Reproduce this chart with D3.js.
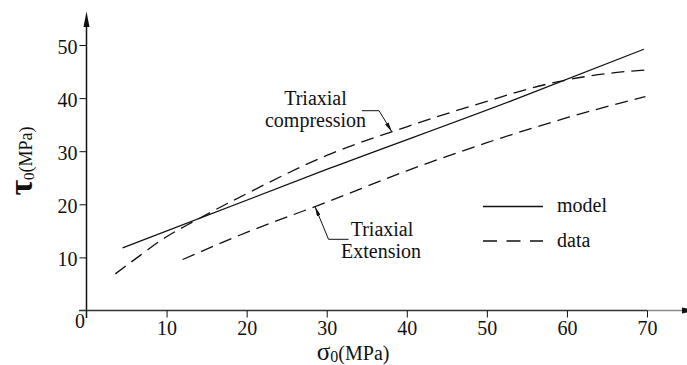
<!DOCTYPE html>
<html>
<head>
<meta charset="utf-8">
<script src="https://cdn.jsdelivr.net/npm/d3@7"></script>
<style>
  html, body { margin: 0; padding: 0; background: #fff; }
  svg { display: block; }
  svg text { font-family: "Liberation Serif", "Times New Roman", "DejaVu Serif", serif; fill: #111; }
</style>
</head>
<body>
<svg id="chart" width="687" height="365" font-family="Liberation Serif, serif"></svg>
<script>
// ---- data ----
const xTicks = [10, 20, 30, 40, 50, 60, 70];
const yTicks = [10, 20, 30, 40, 50];

const modelSigma = [4.5, 30.4, 52.9, 69.6];
const modelTau   = [11.8, 26.8, 39.4, 49.2];

const compSigma = [3.6, 5.65, 10, 13.3, 20, 30, 40, 50, 58, 66, 69.8];
const compTau   = [6.9, 9.2, 13.9, 16.7, 22.0, 29.2, 34.6, 39.4, 42.8, 44.8, 45.3];

const extSigma = [12, 20, 30, 40, 50, 60, 69.8];
const extTau   = [9.6, 14.7, 20.4, 26.3, 31.6, 36.3, 40.3];

const legendLabels = ["model", "data"];

// ---- layout ----
const FONT = "Liberation Serif";
const svg = d3.select("#chart");
const x = d3.scaleLinear().domain([0, 70]).range([86.5, 647]);
const y = d3.scaleLinear().domain([0, 50]).range([310.5, 45]);
const ink = "#111";

// arrow markers
const defs = svg.append("defs");
defs.append("marker").attr("id", "tip").attr("viewBox", "0 0 10 4")
  .attr("refX", 10).attr("refY", 2).attr("markerWidth", 10).attr("markerHeight", 4)
  .attr("markerUnits", "userSpaceOnUse").attr("orient", "auto")
  .append("path").attr("d", "M0,0 L10,2 L0,4 Z").attr("fill", ink);

// axes lines
const x0 = x(0), y0 = y(0);
svg.append("line").attr("x1", x0).attr("x2", x0).attr("y1", 318).attr("y2", 20)
  .attr("stroke", ink).attr("stroke-width", 1.5);
svg.append("path").attr("d", `M${x0 - 3},27 L${x0},11.5 L${x0 + 3},27 Z`).attr("fill", ink);

svg.append("line").attr("x1", 79).attr("x2", x(70)).attr("y1", y0).attr("y2", y0)
  .attr("stroke", "#333").attr("stroke-width", 1.6);
svg.append("line").attr("x1", x(70)).attr("x2", 684).attr("y1", y0).attr("y2", y0)
  .attr("stroke", "#888").attr("stroke-width", 1.6);
svg.append("path").attr("d", `M682,${y0 - 3} L697,${y0} L682,${y0 + 3} Z`).attr("fill", ink);

// x ticks
const xAxis = svg.append("g").attr("transform", `translate(0,${y0})`)
  .call(d3.axisBottom(x).tickValues(xTicks).tickSize(7).tickPadding(4));
xAxis.attr("font-family", FONT);
xAxis.select(".domain").remove();
xAxis.selectAll(".tick line").attr("stroke", ink).attr("stroke-width", 1);
xAxis.selectAll(".tick text").attr("font-size", 20).attr("fill", ink)
  .attr("font-family", FONT).attr("y", 24.5).attr("dy", 0);

// y ticks
const yAxis = svg.append("g").attr("transform", `translate(${x0},0)`)
  .call(d3.axisLeft(y).tickValues(yTicks).tickSize(7).tickPadding(2));
yAxis.attr("font-family", FONT);
yAxis.select(".domain").remove();
yAxis.selectAll(".tick line").attr("stroke", ink).attr("stroke-width", 1);
yAxis.selectAll(".tick text").attr("font-size", 20).attr("fill", ink)
  .attr("font-family", FONT).attr("dy", "0.4em");

// origin label
svg.append("text").attr("x", x(0) - 6.5).attr("y", 328).attr("text-anchor", "middle")
  .attr("font-size", 20).text("0");

// axis titles
const xt = svg.append("text").attr("x", x(33.3)).attr("y", 360).attr("text-anchor", "middle");
xt.append("tspan").attr("font-size", 25).text("σ");
xt.append("tspan").attr("font-size", 16).attr("dy", 2).text("0");
xt.append("tspan").attr("font-size", 20).attr("dy", -2).text("(MPa)");

const yt = svg.append("text").attr("transform", "translate(32,161) rotate(-90)")
  .attr("text-anchor", "middle");
yt.append("tspan").attr("font-size", 34).attr("font-weight", "bold").text("τ");
yt.append("tspan").attr("font-size", 15).attr("dy", 2).text("0");
yt.append("tspan").attr("font-size", 18).attr("dy", -2).text("(MPa)");

// curves
const line = d3.line().x(d => x(d[0])).y(d => y(d[1])).curve(d3.curveMonotoneX);
const zip = (a, b) => a.map((v, i) => [v, b[i]]);

svg.append("path").datum(zip(modelSigma, modelTau)).attr("d", line)
  .attr("fill", "none").attr("stroke", ink).attr("stroke-width", 1.3);
svg.append("path").datum(zip(compSigma, compTau)).attr("d", line)
  .attr("fill", "none").attr("stroke", ink).attr("stroke-width", 1.3)
  .attr("stroke-dasharray", "13,7");
svg.append("path").datum(zip(extSigma, extTau)).attr("d", line)
  .attr("fill", "none").attr("stroke", ink).attr("stroke-width", 1.3)
  .attr("stroke-dasharray", "13,7");

// legend
svg.append("line").attr("x1", 483).attr("x2", 543).attr("y1", 206.5).attr("y2", 206.5)
  .attr("stroke", ink).attr("stroke-width", 1.3);
svg.append("line").attr("x1", 483).attr("x2", 543).attr("y1", 241).attr("y2", 241)
  .attr("stroke", ink).attr("stroke-width", 1.3).attr("stroke-dasharray", "14,9.5");
svg.append("text").attr("x", 557).attr("y", 212).attr("font-size", 20).text(legendLabels[0]);
svg.append("text").attr("x", 557).attr("y", 247).attr("font-size", 20).text(legendLabels[1]);

// annotations
svg.append("text").attr("x", 315.5).attr("y", 104.5).attr("text-anchor", "middle")
  .attr("font-size", 20).text("Triaxial");
svg.append("text").attr("x", 315.5).attr("y", 127).attr("text-anchor", "middle")
  .attr("font-size", 20).text("compression");
svg.append("path").attr("d", "M362,110.7 L379,110.7 L392,132")
  .attr("fill", "none").attr("stroke", ink).attr("stroke-width", 1)
  .attr("marker-end", "url(#tip)");

svg.append("text").attr("x", 382).attr("y", 235.7).attr("text-anchor", "middle")
  .attr("font-size", 20).text("Triaxial");
svg.append("text").attr("x", 381).attr("y", 258.3).attr("text-anchor", "middle")
  .attr("font-size", 20).text("Extension");
svg.append("path").attr("d", "M348.5,239.3 L328.5,239.3 L315,206.5")
  .attr("fill", "none").attr("stroke", ink).attr("stroke-width", 1)
  .attr("marker-end", "url(#tip)");
</script>
</body>
</html>
